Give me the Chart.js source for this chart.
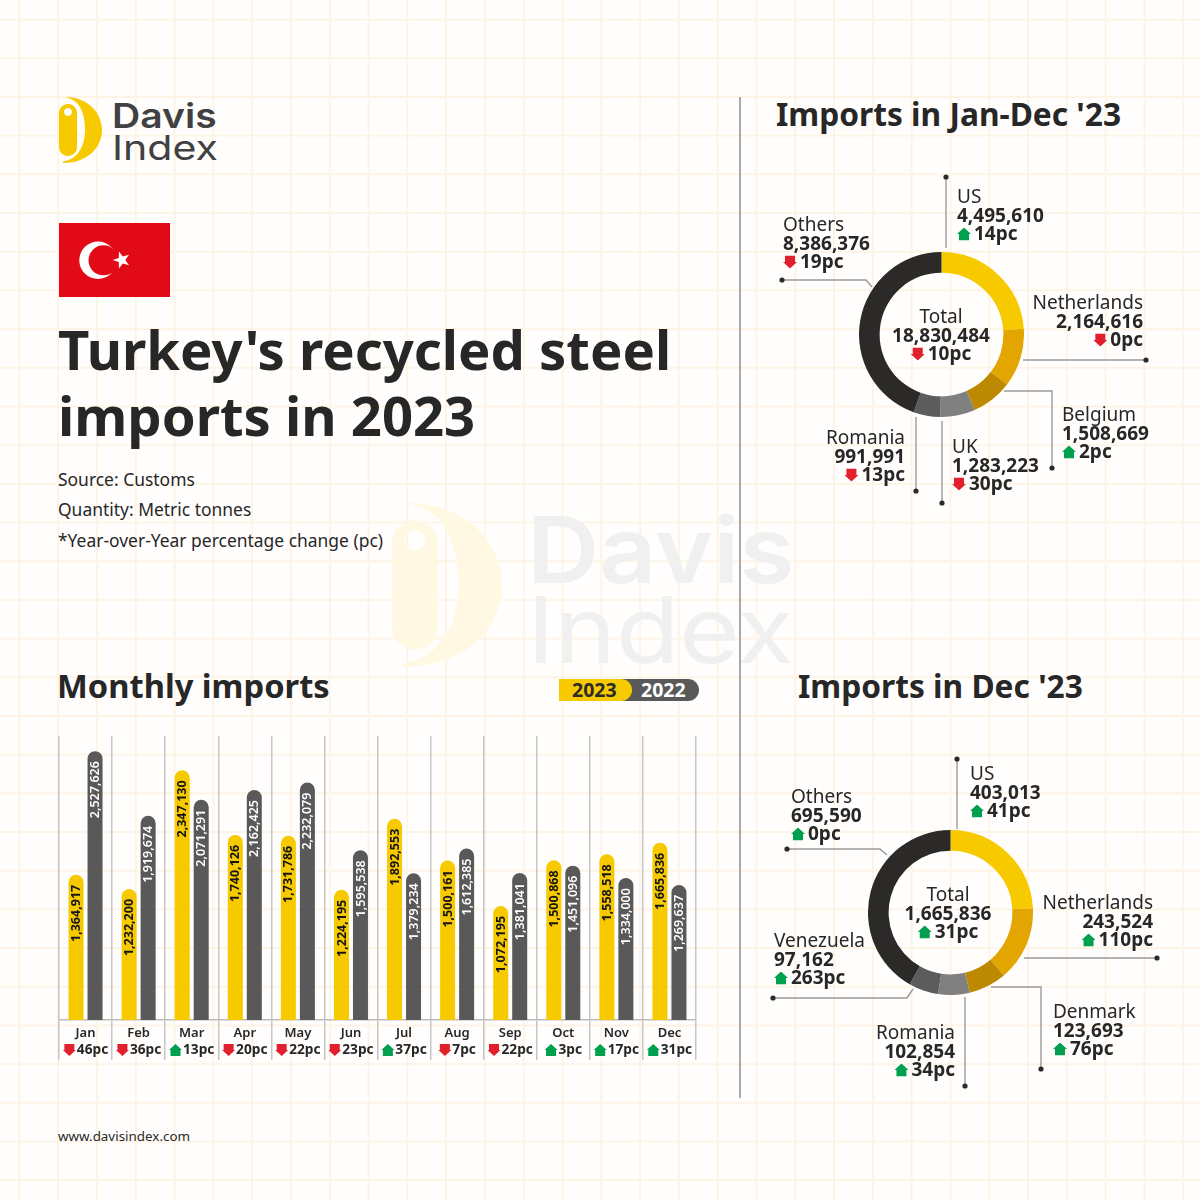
<!DOCTYPE html>
<html>
<head>
<meta charset="utf-8">
<title>Turkey's recycled steel imports in 2023</title>
<script src="https://cdn.jsdelivr.net/npm/chart.js@4"></script>
<style>
    html, body { margin: 0; padding: 0; }
    body {
        width: 1200px; height: 1200px; position: relative; overflow: hidden;
        font-family: "Noto Sans", sans-serif; color: #272727;
        background-color: #fffefd;
        background-image:
            linear-gradient(to right, #fdf4e6 2px, transparent 2px),
            linear-gradient(to bottom, #fdf4e6 2px, transparent 2px);
        background-size: 38.8px 38.7px;
        background-position: 18.4px 18.6px;
    }
    .abs { position: absolute; white-space: nowrap; }
    .txt { position: absolute; white-space: nowrap; line-height: 1; }
    canvas { position: absolute; }
    .brand { font-family: "Inter", sans-serif; color: #414042; transform-origin: left center; }
    h1, h2 { margin: 0; font-weight: 700; }
    svg.over { position: absolute; left: 0; top: 0; }
    .arrow { vertical-align: -1px; margin-right: 3px; }
</style>
</head>
<body>

<!-- logo symbol, reused for the faint watermark -->
<svg width="0" height="0" style="position:absolute">
    <symbol id="logoMark" viewBox="59 97 43 66" preserveAspectRatio="none">
        <path fill-rule="evenodd" d="M68 104C63 104 59 108 59 113V147C59 152 63 156 68 156C73 156 77 152 77 147V113C77 108 73 104 68 104ZM68 108C70.2 108 72 109.8 72 112C72 114.2 70.2 116 68 116C65.8 116 64 114.2 64 112C64 109.8 65.8 108 68 108Z"/>
        <path d="M65 97C88 97 102 113 102 130C102 147 88 163 63 163L63 161.5C76 160 85 148 85 130C85 114 80 103 72 99.5Z"/>
    </symbol>
</svg>

<!-- watermark -->
<svg class="abs" style="left:392px;top:503px;" width="110" height="164" fill="#fff8e2"><use href="#logoMark"/></svg>
<div class="txt brand" style="left:527px;top:504px;font-size:92px;font-weight:600;color:#f0f0f0;transform:scaleX(1.085);">Davis</div>
<div class="txt brand" style="left:527px;top:584px;font-size:92px;font-weight:400;color:#f0f0f0;transform:scaleX(1.125);">Index</div>

<!-- logo -->
<svg class="abs" style="left:59px;top:97px" width="43" height="66" fill="#f7ca00"><use href="#logoMark"/></svg>
<div class="txt brand" style="left:112px;top:99px;font-size:34px;font-weight:600;transform:scaleX(1.15);">Davis</div>
<div class="txt brand" style="left:112px;top:131px;font-size:34px;font-weight:400;transform:scaleX(1.21);">Index</div>

<!-- flag -->
<svg class="abs" style="left:59px;top:223px" width="111" height="74" viewBox="0 0 111 74">
    <rect width="111" height="74" fill="#e30a17"/>
    <circle cx="39" cy="37.3" r="18.7" fill="#fff"/>
    <circle cx="44.5" cy="37.3" r="15" fill="#e30a17"/>
    <polygon fill="#fff" transform="translate(62.7 37)" points="-9,0 -2.91,-2.12 -2.78,-8.56 1.11,-3.42 7.28,-5.29 3.6,0 7.28,5.29 1.11,3.42 -2.78,8.56 -2.91,2.12"/>
</svg>

<h1 class="txt" style="left:58px;top:316px;font-size:54.4px;line-height:66px;">Turkey's recycled steel<br>imports in 2023</h1>
<div class="txt" style="left:58px;top:471px;font-size:17.45px;">Source: Customs</div>
<div class="txt" style="left:58px;top:501px;font-size:17.45px;">Quantity: Metric tonnes</div>
<div class="txt" style="left:58px;top:532px;font-size:17.45px;">*Year-over-Year percentage change (pc)</div>

<h2 class="txt" style="left:776px;top:98px;font-size:31.7px;">Imports in Jan-Dec '23</h2>
<h2 class="txt" style="left:57px;top:670px;font-size:32.7px;">Monthly imports</h2>
<h2 class="txt" style="left:798px;top:670px;font-size:31.7px;">Imports in Dec '23</h2>
<div class="txt" style="left:58px;top:1130px;font-size:13.4px;">www.davisindex.com</div>

<!-- series key -->
<div class="abs" style="left:620px;top:679px;width:79px;height:22px;background:#595959;border-radius:0 11px 11px 0;"></div>
<div class="abs" style="left:559px;top:679px;width:73px;height:22px;background:#f7ca00;border-radius:0 11px 11px 0;"></div>
<div class="txt" style="left:572px;top:680px;font-size:19.5px;font-weight:700;color:#2b2b2b;">2023</div>
<div class="txt" style="left:641px;top:680px;font-size:19.5px;font-weight:700;color:#fff;">2022</div>

<!-- divider -->
<div class="abs" style="left:739px;top:97px;width:2px;height:1001px;background:#a9a9a9;"></div>

<canvas id="barChart" width="680" height="350" style="left:40px;top:720px;width:680px;height:350px"></canvas>
<canvas id="janDecChart" width="165" height="165" style="left:859px;top:252px;width:165px;height:165px"></canvas>
<canvas id="decChart" width="165" height="165" style="left:868px;top:830px;width:165px;height:165px"></canvas>

<svg class="over" id="leaders" width="1200" height="1200"></svg>
<div id="labels"></div>

<script>
// Monthly imports, metric tonnes
const months = ['Jan', 'Feb', 'Mar', 'Apr', 'May', 'Jun', 'Jul', 'Aug', 'Sep', 'Oct', 'Nov', 'Dec'];
const imports2023 = [1364917, 1232200, 2347130, 1740126, 1731786, 1224195, 1892553, 1500161, 1072195, 1500868, 1558518, 1665836];
const imports2022 = [2527626, 1919674, 2071291, 2162425, 2232079, 1595538, 1379234, 1612385, 1381041, 1451096, 1334000, 1269637];
const monthlyChange = [46, 36, 13, 20, 22, 23, 37, 7, 22, 3, 17, 31];
const monthlyDir = ['down', 'down', 'up', 'down', 'down', 'down', 'up', 'down', 'down', 'up', 'up', 'up'];

// Jan-Dec '23 by origin
const yearOrigins = ['US', 'Netherlands', 'Belgium', 'UK', 'Romania', 'Others'];
const yearValues = [4495610, 2164616, 1508669, 1283223, 991991, 8386376];
const yearChange = [14, 0, 2, 30, 13, 19];
const yearDir = ['up', 'down', 'up', 'down', 'down', 'down'];
const yearTotal = 18830484;
const yearTotalChange = 10;
const yearTotalDir = 'down';

// Dec '23 by origin
const decOrigins = ['US', 'Netherlands', 'Denmark', 'Romania', 'Venezuela', 'Others'];
const decValues = [403013, 243524, 123693, 102854, 97162, 695590];
const decChange = [41, 110, 76, 34, 263, 0];
const decDir = ['up', 'up', 'up', 'up', 'up', 'up'];
const decTotal = 1665836;
const decTotalChange = 31;
const decTotalDir = 'up';

const YELLOW = '#f7ca00';
const BAR_GREY = '#595959';
const RED = '#e2202c';
const GREEN = '#00a04e';
const sliceColors = ['#f7ca00', '#e3a600', '#bd8900', '#808080', '#5c5c5c', '#2b2a29'];

const fmt = (n) => n.toLocaleString('en-US');

// Draws the rotated value inside each bar and the change row under each month
const barExtras = {
    id: 'barExtras',
    afterDatasetsDraw(chart) {
        const ctx = chart.ctx;
        chart.data.datasets.forEach((ds, i) => {
            chart.getDatasetMeta(i).data.forEach((bar, j) => {
                ctx.save();
                ctx.translate(bar.x, bar.y + 10);
                ctx.rotate(-Math.PI / 2);
                ctx.textAlign = 'right';
                ctx.textBaseline = 'middle';
                ctx.font = (i === 0 ? '700' : '600') + ' 12.5px "Noto Sans"';
                ctx.fillStyle = i === 0 ? '#151515' : '#ffffff';
                ctx.fillText(fmt(ds.data[j]), 0, 0.5);
                ctx.restore();
            });
        });
    },
    afterDraw(chart) {
        const ctx = chart.ctx;
        const xScale = chart.scales.x;
        const rowY = xScale.top + 30;
        ctx.save();
        ctx.font = '700 13.7px "Noto Sans"';
        ctx.textBaseline = 'middle';
        ctx.textAlign = 'left';
        monthlyChange.forEach((pc, i) => {
            const text = pc + 'pc';
            const w = ctx.measureText(text).width;
            const left = xScale.getPixelForValue(i) - (w + 14) / 2;
            ctx.fillStyle = monthlyDir[i] === 'up' ? GREEN : RED;
            arrowPath(ctx, left, rowY - 6, monthlyDir[i]);
            ctx.fill();
            ctx.fillStyle = '#272727';
            ctx.fillText(text, left + 14, rowY);
        });
        ctx.restore();
    }
};

function arrowPath(ctx, x, y, dir) {
    const pts = dir === 'up'
        ? [[6.5, 0], [13, 6], [11.5, 6], [11.5, 12], [1.5, 12], [1.5, 6], [0, 6]]
        : [[1.5, 0], [11.5, 0], [11.5, 6], [13, 6], [6.5, 12], [0, 6], [1.5, 6]];
    ctx.beginPath();
    pts.forEach((p, i) => i ? ctx.lineTo(x + p[0], y + p[1]) : ctx.moveTo(x + p[0], y + p[1]));
    ctx.closePath();
}

new Chart(document.getElementById('barChart'), {
    type: 'bar',
    data: {
        labels: months,
        datasets: [
            { label: '2023', data: imports2023, backgroundColor: YELLOW },
            { label: '2022', data: imports2022, backgroundColor: BAR_GREY }
        ]
    },
    options: {
        responsive: false,
        animation: false,
        categoryPercentage: 0.716,
        barPercentage: 0.79,
        borderRadius: { topLeft: 8, topRight: 8, bottomLeft: 0, bottomRight: 0 },
        borderSkipped: false,
        layout: { padding: { left: 19, right: 24, top: 16, bottom: 0 } },
        plugins: { legend: { display: false }, tooltip: { enabled: false } },
        scales: {
            x: {
                afterFit: (s) => { s.height = 50; },
                grid: { color: '#c6c6c6', lineWidth: 1.5, tickLength: 40 },
                border: { color: '#bdbdbd', width: 1.5 },
                ticks: { padding: -35, color: '#272727', font: { family: 'Noto Sans', size: 13, weight: '600' }, maxRotation: 0 }
            },
            y: { display: false, min: 0, max: 2670000 }
        }
    },
    plugins: [barExtras]
});

function donut(id, origins, values) {
    new Chart(document.getElementById(id), {
        type: 'doughnut',
        data: { labels: origins, datasets: [{ data: values, backgroundColor: sliceColors, borderWidth: 0 }] },
        options: {
            responsive: false,
            animation: false,
            cutout: '75%',
            plugins: { legend: { display: false }, tooltip: { enabled: false } }
        }
    });
}
donut('janDecChart', yearOrigins, yearValues);
donut('decChart', decOrigins, decValues);

// Callout text, built from the arrays above
const labelsEl = document.getElementById('labels');

function arrowSvg(dir) {
    const pts = dir === 'up' ? '7,0 14,6.5 12,6.5 12,13 2,13 2,6.5 0,6.5' : '2,0 12,0 12,6.5 14,6.5 7,13 0,6.5 2,6.5';
    return `<svg class="arrow" width="14" height="13" viewBox="0 0 14 13"><polygon points="${pts}" fill="${dir === 'up' ? GREEN : RED}"/></svg>`;
}

function addLine(html, x, y, align, bold) {
    const el = document.createElement('div');
    el.className = 'txt';
    el.style.left = x + 'px';
    el.style.top = y + 'px';
    el.style.fontSize = '19px';
    el.style.fontWeight = bold ? '700' : '400';
    const tx = align === 'right' ? '-100%' : align === 'center' ? '-50%' : '0';
    el.style.transform = `translate(${tx}, -50%)`;
    el.innerHTML = html;
    labelsEl.appendChild(el);
}

function callout(name, value, pc, dir, x, y, align) {
    addLine(name, x, y, align, false);
    addLine(fmt(value), x, y + 18.6, align, true);
    addLine(arrowSvg(dir) + pc + 'pc', x, y + 37.2, align, true);
}

// x, y of the first line and text alignment per origin
const yearLabelX = [957, 1143, 1062, 952, 905, 783];
const yearLabelY = [196, 302, 414, 446, 437, 224];
const yearLabelAlign = ['left', 'right', 'left', 'left', 'right', 'left'];
yearOrigins.forEach((name, i) => callout(name, yearValues[i], yearChange[i], yearDir[i], yearLabelX[i], yearLabelY[i], yearLabelAlign[i]));
callout('Total', yearTotal, yearTotalChange, yearTotalDir, 941, 316, 'center');

const decLabelX = [970, 1153, 1053, 955, 774, 791];
const decLabelY = [773, 902, 1011, 1032, 940, 796];
const decLabelAlign = ['left', 'right', 'left', 'right', 'left', 'left'];
decOrigins.forEach((name, i) => callout(name, decValues[i], decChange[i], decDir[i], decLabelX[i], decLabelY[i], decLabelAlign[i]));
callout('Total', decTotal, decTotalChange, decTotalDir, 948, 894, 'center');

// Leader lines from each slice out to its dot
const leaderPaths = [
    [[946, 248], [946, 177]],
    [[872, 287], [866, 280], [782, 280]],
    [[1023, 360], [1146, 360]],
    [[1004, 391], [1052, 391], [1052, 468]],
    [[942, 421], [942, 503]],
    [[916, 417], [916, 491]],
    [[957, 829], [957, 759]],
    [[887, 855], [880, 849], [787, 849]],
    [[1024, 958], [1157, 958]],
    [[991, 987], [1041, 987], [1041, 1069]],
    [[965, 997], [965, 1086]],
    [[913, 989], [907, 998], [773, 998]]
];
const leaders = document.getElementById('leaders');
leaderPaths.forEach((pts) => {
    const end = pts[pts.length - 1];
    leaders.innerHTML += `<polyline points="${pts.map((p) => p.join(',')).join(' ')}" fill="none" stroke="#9a9a9a" stroke-width="1.4"/>`
        + `<circle cx="${end[0]}" cy="${end[1]}" r="2.6" fill="#2b2a29"/>`;
});
</script>
</body>
</html>
